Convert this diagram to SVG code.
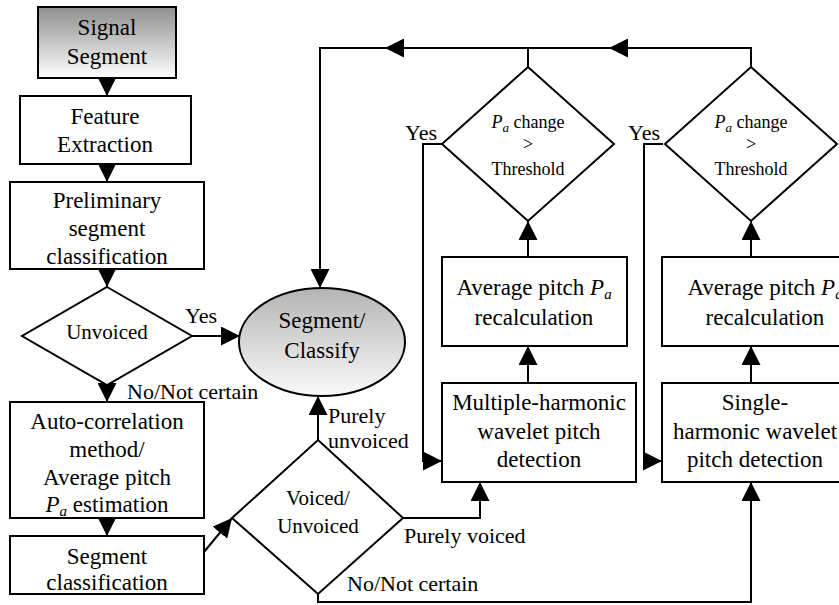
<svg xmlns="http://www.w3.org/2000/svg" width="839" height="605" viewBox="0 0 839 605">
<defs>
<linearGradient id="gSig" x1="0" y1="0" x2="0" y2="1"><stop offset="0" stop-color="#8e8e8e"/><stop offset="1" stop-color="#ffffff"/></linearGradient>
<linearGradient id="gEll" x1="0" y1="0" x2="0" y2="1"><stop offset="0" stop-color="#b4b4b4"/><stop offset="1" stop-color="#fafafa"/></linearGradient>
<marker id="ah" markerUnits="userSpaceOnUse" markerWidth="19" markerHeight="19" refX="19" refY="9.5" orient="auto"><path d="M0,0 L19,9.5 L0,19 Z" fill="#000"/></marker>
<style>
.n{fill:#fff;stroke:#000;stroke-width:2}
.c{fill:none;stroke:#000;stroke-width:2;marker-end:url(#ah)}
.p{fill:none;stroke:#000;stroke-width:2}
text{font-family:"Liberation Serif","Times New Roman",serif;fill:#000}
.t{font-size:23px;text-anchor:middle}
.d{font-size:21px;text-anchor:middle}
.s{font-size:18px;text-anchor:middle}
.l{font-size:22px}
.i{font-style:italic}
</style>
</defs>
<rect width="839" height="605" fill="#fff"/>
<g id="connectors">
<path class="c" d="M107,78 V96"/>
<path class="c" d="M107,164 V182"/>
<path class="c" d="M107,269 V287"/>
<path class="c" d="M107,385 V402"/>
<path class="c" d="M107,518 V536"/>
<path class="c" d="M192,336 H240"/>
<path class="c" d="M204,552 L232,518"/>
<path class="c" d="M318,440 V396"/>
<path class="c" d="M403,518 H480 V482"/>
<path class="c" d="M318,593 V602 H751 V482"/>
<path class="c" d="M528,383 V346"/>
<path class="c" d="M528,257 V221"/>
<path class="c" d="M751,383 V346"/>
<path class="c" d="M751,257 V221"/>
<path class="c" d="M442,144 H423 V461 H442"/>
<path class="c" d="M663,144 H644 V461 H662"/>
<path class="c" d="M751,67 V48 H609"/>
<path class="p" d="M609,48 H528"/>
<path class="c" d="M528,67 V48 H385"/>
<path class="c" d="M385,48 H320 V288"/>
</g>
<g id="signal-segment">
<rect x="38" y="7" width="138" height="71" fill="url(#gSig)" stroke="#000" stroke-width="2"/>
<text class="t" x="107" y="35">Signal</text>
<text class="t" x="107" y="64">Segment</text>
</g>
<g id="feature-extraction">
<rect class="n" x="20" y="96" width="171" height="68"/>
<text class="t" x="105" y="124">Feature</text>
<text class="t" x="105" y="152">Extraction</text>
</g>
<g id="preliminary">
<rect class="n" x="10" y="182" width="194" height="87"/>
<text class="t" x="107" y="208">Preliminary</text>
<text class="t" x="107" y="236">segment</text>
<text class="t" x="107" y="264">classification</text>
</g>
<g id="unvoiced">
<polygon class="n" points="107,287 192,336 107,385 22,336"/>
<text class="d" x="107" y="339">Unvoiced</text>
</g>
<g id="auto-correlation">
<rect class="n" x="10" y="402" width="194" height="116"/>
<text class="t" x="107" y="429">Auto-correlation</text>
<text class="t" x="107" y="457">method/</text>
<text class="t" x="107" y="485">Average pitch</text>
<text class="t" x="107" y="512"><tspan class="i">P</tspan><tspan class="i" font-size="15" dy="4">a</tspan><tspan dy="-4"> estimation</tspan></text>
</g>
<g id="segment-classification">
<rect class="n" x="10" y="536" width="194" height="58"/>
<text class="t" x="107" y="564">Segment</text>
<text class="t" x="107" y="590">classification</text>
</g>
<g id="voiced-unvoiced">
<polygon class="n" points="318,440 403,518 318,594 232,518"/>
<text class="d" x="318" y="505">Voiced/</text>
<text class="d" x="318" y="533">Unvoiced</text>
</g>
<g id="segment-classify">
<ellipse cx="322" cy="342" rx="83" ry="54" fill="url(#gEll)" stroke="#000" stroke-width="2"/>
<text class="t" x="322" y="328">Segment/</text>
<text class="t" x="322" y="358">Classify</text>
</g>
<g id="threshold-1">
<polygon class="n" points="528,67 614,144 528,221 442,144"/>
<text class="s" x="528" y="128"><tspan class="i">P</tspan><tspan class="i" font-size="13" dy="4">a</tspan><tspan dy="-4"> change</tspan></text>
<text class="s" x="528" y="150">&gt;</text>
<text class="s" x="528" y="175">Threshold</text>
</g>
<g id="threshold-2">
<polygon class="n" points="751,67 837,144 751,221 665,144"/>
<text class="s" x="751" y="128"><tspan class="i">P</tspan><tspan class="i" font-size="13" dy="4">a</tspan><tspan dy="-4"> change</tspan></text>
<text class="s" x="751" y="150">&gt;</text>
<text class="s" x="751" y="175">Threshold</text>
</g>
<g id="avg-pitch-1">
<rect class="n" x="442" y="257" width="185" height="89"/>
<text class="t" x="534" y="295">Average pitch <tspan class="i">P</tspan><tspan class="i" font-size="15" dy="4">a</tspan></text>
<text class="t" x="534" y="325">recalculation</text>
</g>
<g id="avg-pitch-2">
<rect class="n" x="662" y="257" width="206" height="89"/>
<text class="t" x="765" y="295">Average pitch <tspan class="i">P</tspan><tspan class="i" font-size="15" dy="4">a</tspan></text>
<text class="t" x="765" y="325">recalculation</text>
</g>
<g id="multiple-harmonic">
<rect class="n" x="442" y="383" width="194" height="99"/>
<text class="t" x="539" y="410">Multiple-harmonic</text>
<text class="t" x="539" y="439">wavelet pitch</text>
<text class="t" x="539" y="467">detection</text>
</g>
<g id="single-harmonic">
<rect class="n" x="662" y="383" width="181" height="99"/>
<text class="t" x="755" y="410">Single-</text>
<text class="t" x="755" y="439">harmonic wavelet</text>
<text class="t" x="755" y="467">pitch detection</text>
</g>
<g id="labels">
<text class="l" x="185" y="323">Yes</text>
<text class="l" x="127" y="399">No/Not certain</text>
<text class="l" x="328" y="423">Purely</text>
<text class="l" x="328" y="448">unvoiced</text>
<text class="l" x="404" y="543">Purely voiced</text>
<text class="l" x="347" y="591">No/Not certain</text>
<text class="l" x="405" y="140">Yes</text>
<text class="l" x="628" y="140">Yes</text>
</g>
</svg>
